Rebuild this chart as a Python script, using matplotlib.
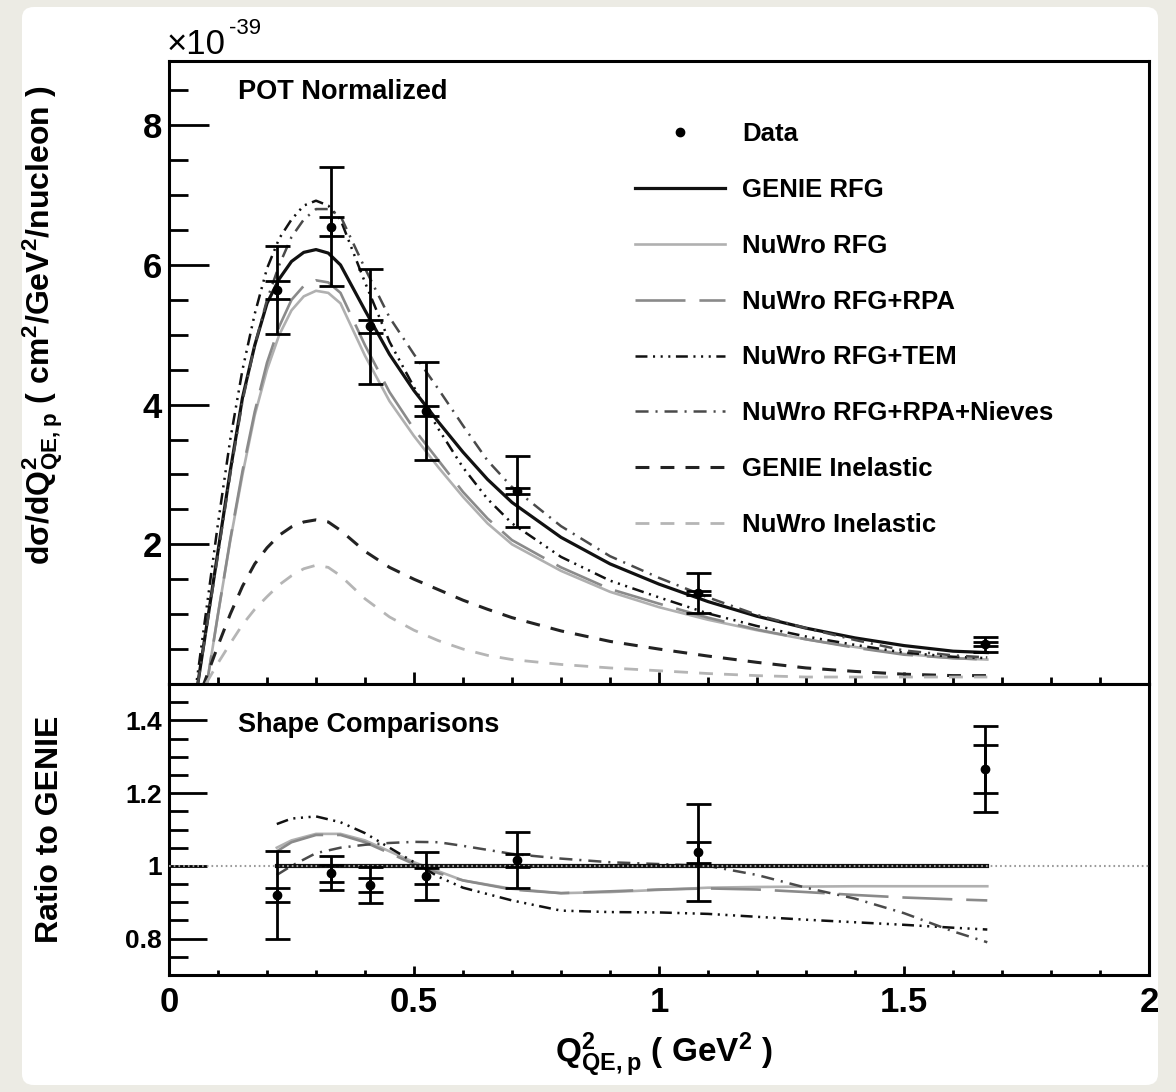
import numpy as np
import matplotlib
matplotlib.use('Agg')
import matplotlib.pyplot as plt
from matplotlib.patches import FancyBboxPatch
from matplotlib.lines import Line2D
from matplotlib.ticker import MultipleLocator, FixedLocator, NullFormatter

plt.rcParams['font.family'] = ['Liberation Sans', 'DejaVu Sans']
plt.rcParams['font.weight'] = 'bold'
plt.rcParams['mathtext.default'] = 'regular'
plt.rcParams['lines.scale_dashes'] = False

# ---- data (cross section in units of 1e-39) ----
data_x = [0.22, 0.33, 0.41, 0.525, 0.71, 1.08, 1.665]
data_y = [5.64, 6.55, 5.12, 3.91, 2.76, 1.30, 0.57]
data_err_tot = [0.63, 0.85, 0.82, 0.70, 0.51, 0.29, 0.11]
data_err_stat = [0.13, 0.13, 0.09, 0.07, 0.04, 0.03, 0.03]

ratio_y = [0.92, 0.98, 0.947, 0.972, 1.015, 1.037, 1.266]
ratio_err_tot = [0.122, 0.046, 0.05, 0.065, 0.077, 0.133, 0.118]
ratio_err_stat = [0.02, 0.023, 0.02, 0.023, 0.017, 0.03, 0.065]

q2_grid = [0.05, 0.1, 0.125, 0.15, 0.175, 0.2, 0.225, 0.25, 0.275, 0.3, 0.325, 0.35,
           0.4, 0.45, 0.5, 0.55, 0.6, 0.65, 0.7, 0.8, 0.9, 1.0, 1.1, 1.2, 1.3, 1.4,
           1.5, 1.6, 1.67]
genie_rfg = [-0.4, 1.9, 3.05, 4.1, 4.85, 5.45, 5.8, 6.05, 6.18, 6.22, 6.17, 6.0,
             5.35, 4.72, 4.2, 3.75, 3.32, 2.93, 2.6, 2.1, 1.72, 1.43, 1.18, 0.97, 0.8, 0.66,
             0.55, 0.47, 0.45]
nuwro_rfg = [-1.2, 1.0, 2.05, 3.0, 3.85, 4.5, 5.0, 5.35, 5.55, 5.63, 5.6, 5.45,
             4.7, 4.05, 3.55, 3.1, 2.68, 2.3, 2.0, 1.62, 1.32, 1.1, 0.92, 0.77, 0.64, 0.53,
             0.43, 0.37, 0.35]
nuwro_rpa = [-1.2, 1.0, 2.07, 3.05, 3.9, 4.6, 5.12, 5.5, 5.7, 5.78, 5.75, 5.6,
             4.85, 4.18, 3.65, 3.2, 2.75, 2.37, 2.06, 1.67, 1.36, 1.15, 0.95, 0.78, 0.64, 0.52,
             0.42, 0.37, 0.35]
nuwro_tem = [-0.3, 2.3, 3.5, 4.5, 5.3, 5.95, 6.38, 6.65, 6.85, 6.92, 6.85, 6.65,
             5.75, 4.9, 4.25, 3.65, 3.1, 2.65, 2.3, 1.82, 1.48, 1.24, 1.01, 0.83, 0.68, 0.56,
             0.45, 0.39, 0.37]
nuwro_nieves = [-0.4, 1.85, 3.0, 4.05, 4.85, 5.5, 6.0, 6.4, 6.65, 6.8, 6.8, 6.7,
                5.95, 5.25, 4.72, 4.22, 3.7, 3.2, 2.82, 2.26, 1.83, 1.52, 1.24, 0.99, 0.8, 0.63,
                0.48, 0.41, 0.38]
genie_inel = [-0.4, 0.55, 1.0, 1.4, 1.72, 1.95, 2.13, 2.25, 2.32, 2.35, 2.32, 2.2,
              1.9, 1.67, 1.5, 1.35, 1.2, 1.07, 0.95, 0.76, 0.61, 0.5, 0.4, 0.31, 0.23, 0.18,
              0.14, 0.12, 0.12]
nuwro_inel = [-0.3, 0.3, 0.58, 0.85, 1.07, 1.25, 1.42, 1.55, 1.65, 1.7, 1.67, 1.55,
              1.22, 0.96, 0.77, 0.62, 0.5, 0.41, 0.35, 0.28, 0.23, 0.19, 0.15, 0.12, 0.1, 0.1,
              0.1, 0.1, 0.1]

# shape ratios to GENIE
ratio_grid = [0.22, 0.25, 0.3, 0.35, 0.4, 0.45, 0.5, 0.55, 0.6, 0.7, 0.8, 0.9,
              1.0, 1.1, 1.2, 1.3, 1.4, 1.5, 1.6, 1.67]
ratio_genie = [1.0] * 20
ratio_rfg = [1.05, 1.07, 1.088, 1.088, 1.07, 1.04, 1.01, 0.985, 0.96, 0.937, 0.925, 0.928,
             0.934, 0.94, 0.942, 0.943, 0.944, 0.944, 0.944, 0.944]
ratio_rpa = [1.04, 1.065, 1.085, 1.085, 1.065, 1.035, 1.005, 0.98, 0.96, 0.935, 0.925, 0.93,
             0.935, 0.938, 0.935, 0.928, 0.92, 0.913, 0.908, 0.905]
ratio_tem = [1.115, 1.13, 1.136, 1.12, 1.09, 1.05, 1.01, 0.97, 0.94, 0.905, 0.877, 0.873,
             0.872, 0.868, 0.86, 0.852, 0.845, 0.838, 0.83, 0.825]
ratio_nieves = [0.975, 1.0, 1.035, 1.05, 1.058, 1.063, 1.066, 1.065, 1.055, 1.033, 1.02, 1.01,
                1.005, 1.0, 0.975, 0.94, 0.91, 0.87, 0.82, 0.79]

# ---- styles ----
styles = {
    'GENIE RFG': dict(color='#111111', lw=2.3, ls='-'),
    'NuWro RFG': dict(color='#b0b0b0', lw=1.9, ls='-'),
    'NuWro RFG+RPA': dict(color='#8a8a8a', lw=1.9, ls=(0, (36, 10))),
    'NuWro RFG+TEM': dict(color='#111111', lw=1.8, ls=(0, (8.6, 4, 1.5, 4, 1.5, 4, 1.5, 4))),
    'NuWro RFG+RPA+Nieves': dict(color='#4a4a4a', lw=1.8, ls=(0, (9.4, 5, 1.5, 5))),
    'GENIE Inelastic': dict(color='#222222', lw=2.2, ls=(0, (10, 8))),
    'NuWro Inelastic': dict(color='#b5b5b5', lw=2.0, ls=(0, (10, 8))),
}

W, H = 1176, 1092
fig = plt.figure(figsize=(W / 100, H / 100), dpi=100)
fig.patch.set_facecolor('#ecebe4')
box = FancyBboxPatch((22 / W, 7 / H), (1158 - 22) / W, (1085 - 7) / H,
                     boxstyle='round,pad=0,rounding_size=0.01', transform=fig.transFigure,
                     facecolor='white', edgecolor='none', zorder=-10)
fig.patches.append(box)

left, right = 169, 1149
ax1 = fig.add_axes([left / W, (H - 684) / H, (right - left) / W, (684 - 61) / H])
ax2 = fig.add_axes([left / W, (H - 975) / H, (right - left) / W, (975 - 684) / H])

for ax in (ax1, ax2):
    ax.set_xlim(0, 2)
    for s in ax.spines.values():
        s.set_linewidth(2.2)
    ax.xaxis.set_major_locator(MultipleLocator(0.5))
    ax.xaxis.set_minor_locator(MultipleLocator(0.1))
    ax.tick_params(which='both', direction='in', top=False, right=False, width=2,
                   labelsize=25)

# ---- top panel ----
ax1.set_ylim(0, 8.92)
ax1.yaxis.set_major_locator(FixedLocator([2, 4, 6, 8]))
ax1.yaxis.set_minor_locator(MultipleLocator(0.5))
ax1.xaxis.set_major_formatter(NullFormatter())
ax1.tick_params(axis='y', which='major', length=29, pad=5)
ax1.tick_params(axis='y', which='minor', length=14)
ax1.tick_params(axis='x', which='major', length=8.6)
ax1.tick_params(axis='x', which='minor', length=5)

curves = [
    ('GENIE RFG', genie_rfg),
    ('NuWro RFG', nuwro_rfg),
    ('NuWro RFG+RPA', nuwro_rpa),
    ('NuWro RFG+TEM', nuwro_tem),
    ('NuWro RFG+RPA+Nieves', nuwro_nieves),
    ('GENIE Inelastic', genie_inel),
    ('NuWro Inelastic', nuwro_inel),
]
handles = [Line2D([], [], color='black', marker='o', ms=6, ls='none')]
labels = ['Data']
for name, vals in curves:
    st = styles[name]
    h, = ax1.plot(q2_grid, vals, color=st['color'], lw=st['lw'], ls=st['ls'])
    handles.append(h)
    labels.append(name)

ax1.errorbar(data_x, data_y, yerr=data_err_tot, fmt='o', color='black', ms=6,
             elinewidth=2, capsize=9, capthick=2, zorder=5)
ax1.errorbar(data_x, data_y, yerr=data_err_stat, fmt='none', ecolor='black',
             elinewidth=2, capsize=9, capthick=2, zorder=5)

ax1.legend(handles, labels, loc='upper left', bbox_to_anchor=(0.4755, 0.902),
           frameon=False, fontsize=18.5, handlelength=3.5, handletextpad=0.68,
           labelspacing=1.24, borderpad=0, borderaxespad=0)

ax1.text(238, H - 92, 'POT Normalized', transform=None, fontsize=19.5,
         fontweight='bold', va='center', ha='left')
fig.text(167 / W, (H - 44) / H, '×10', fontsize=25, fontweight='normal',
         va='center', ha='left')
fig.text(229 / W, (H - 28) / H, '-39', fontsize=16, fontweight='normal',
         va='center', ha='left')

ax1.set_ylabel('dσ/dQ$^{2}_{QE,p}$ ( cm$^{2}$/GeV$^{2}$/nucleon )', fontsize=23,
               fontweight='bold')
ax1.yaxis.set_label_coords(-0.106, 0.575)

# ---- ratio panel ----
ax2.set_ylim(0.7, 1.5)
ax2.yaxis.set_major_locator(FixedLocator([0.8, 1.0, 1.2, 1.4]))
ax2.yaxis.set_minor_locator(MultipleLocator(0.05))
ax2.set_yticklabels(['0.8', '1', '1.2', '1.4'])
ax2.set_xticks([0, 0.5, 1, 1.5, 2])
ax2.set_xticklabels(['0', '0.5', '1', '1.5', '2'])
ax2.tick_params(axis='y', which='major', length=27, pad=5, labelsize=19)
ax2.tick_params(axis='y', which='minor', length=14)
ax2.tick_params(axis='x', which='major', length=6.5, pad=8)
ax2.tick_params(axis='x', which='minor', length=3.6)

ratio_curves = [
    ('NuWro RFG', ratio_rfg),
    ('NuWro RFG+RPA', ratio_rpa),
    ('NuWro RFG+TEM', ratio_tem),
    ('NuWro RFG+RPA+Nieves', ratio_nieves),
]
ax2.plot(ratio_grid, ratio_genie, color='#111111', lw=3.0, zorder=3)
for name, vals in ratio_curves:
    st = styles[name]
    ax2.plot(ratio_grid, vals, color=st['color'], lw=st['lw'], ls=st['ls'])
ax2.axhline(1.0, color='#9a9a9a', lw=1.5, ls=(0, (1.2, 2.2)), zorder=4)

ax2.errorbar(data_x, ratio_y, yerr=ratio_err_tot, fmt='o', color='black', ms=6,
             elinewidth=2, capsize=9, capthick=2, zorder=5)
ax2.errorbar(data_x, ratio_y, yerr=ratio_err_stat, fmt='none', ecolor='black',
             elinewidth=2, capsize=9, capthick=2, zorder=5)

ax2.text(238, H - 725, 'Shape Comparisons', transform=None, fontsize=19.5,
         fontweight='bold', va='center', ha='left')
ax2.set_ylabel('Ratio to GENIE', fontsize=23, fontweight='bold')
ax2.yaxis.set_label_coords(-0.106, 0.5)
ax2.set_xlabel('Q$^{2}_{QE,p}$ ( GeV$^{2}$ )', fontsize=24, fontweight='bold')
ax2.xaxis.set_label_coords(0.505, -0.19)

fig.savefig('out.png', dpi=100, facecolor=fig.get_facecolor())
